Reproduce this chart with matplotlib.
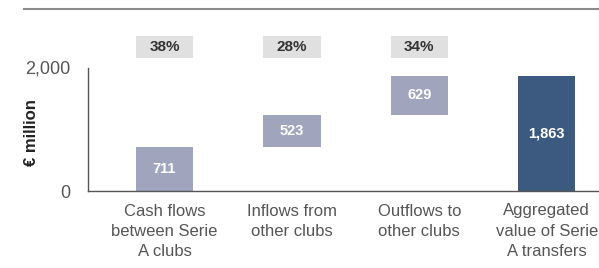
import matplotlib.pyplot as plt

plt.rcParams['font.family'] = ['Liberation Sans', 'DejaVu Sans']

categories = ['Cash flows\nbetween Serie\nA clubs', 'Inflows from\nother clubs',
              'Outflows to\nother clubs', 'Aggregated\nvalue of Serie\nA transfers']
values = [711, 523, 629, 1863]
value_labels = ['711', '523', '629', '1,863']
shares = ['38%', '28%', '34%']

light = '#a0a4bc'
dark = '#3c5a7f'

# waterfall bottoms
bottoms = [0, values[0], values[0] + values[1], 0]
colors = [light, light, light, dark]

fig = plt.figure(figsize=(5.99, 2.68), dpi=100)
W, H = 599, 268
ax = fig.add_axes([88 / W, 1 - 191 / H, (599 - 88) / W, (191 - 67.5) / H])

x = range(len(values))
ax.bar(x, values, bottom=bottoms, width=0.45, color=colors, zorder=2)
for i, v in enumerate(values):
    ax.text(i, bottoms[i] + v / 2, value_labels[i], ha='center', va='center',
            color='white', fontsize=10.5, fontweight='bold')

# share boxes above the first three bars
ax.bar(range(len(shares)), [350] * len(shares), bottom=2160, width=0.45,
       color='#e0e0e0', clip_on=False)
for i, s in enumerate(shares):
    ax.text(i, 2160 + 175, s, ha='center', va='center', color='#333333',
            fontsize=11, fontweight='bold', clip_on=False)

ax.set_xlim(-0.6, 3.41)
ax.set_ylim(0, 2000)
ax.set_yticks([0, 2000])
ax.set_yticklabels(['0', '2,000'], fontsize=13, color='#555555')
ax.set_xticks(list(x))
ax.set_xticklabels(categories, fontsize=12, color='#555555', linespacing=1.45)
ax.tick_params(axis='y', length=0, pad=13)
ax.tick_params(axis='x', length=0, pad=9)
ax.set_ylabel('€ million', fontsize=12, fontweight='bold', color='#222222')
ax.yaxis.set_label_coords(-0.095, 0.47)

for side in ['top', 'right']:
    ax.spines[side].set_visible(False)
for side in ['left', 'bottom']:
    ax.spines[side].set_color('#555555')
    ax.spines[side].set_linewidth(1.0)

# rule across the top
fig.add_artist(plt.Line2D([24 / W, 1], [1 - 9 / H, 1 - 9 / H], color='#8c8c8c', lw=1.5))

fig.savefig('out.png', dpi=100)
